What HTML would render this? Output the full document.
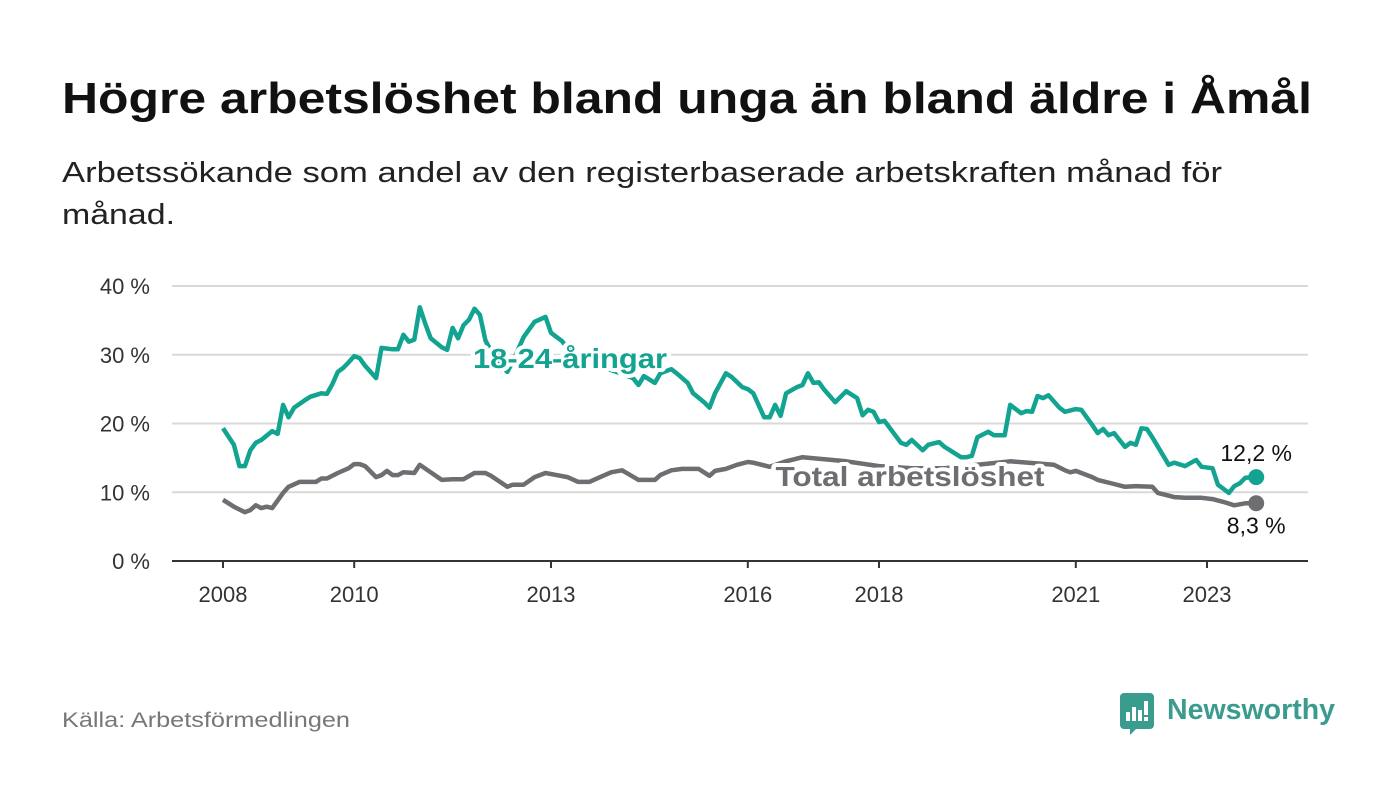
<!DOCTYPE html>
<html><head><meta charset="utf-8"><style>
html,body{margin:0;padding:0;background:#fff;}
svg{display:block;font-family:"Liberation Sans",sans-serif;}
</style></head><body>
<svg id="chart" width="1400" height="794" viewBox="0 0 1400 794">
<text x="62" y="113" font-size="44" font-weight="bold" fill="#111" textLength="1250" lengthAdjust="spacingAndGlyphs">Högre arbetslöshet bland unga än bland äldre i Åmål</text>
<text x="62" y="182" font-size="29" fill="#222" textLength="1160" lengthAdjust="spacingAndGlyphs">Arbetssökande som andel av den registerbaserade arbetskraften månad för</text>
<text x="62" y="224" font-size="29" fill="#222" textLength="113" lengthAdjust="spacingAndGlyphs">månad.</text>
<g id="grid"></g>
<g id="xaxis"></g>
<g id="series"></g>
<g id="labels"></g>
<text x="62" y="727" font-size="21" fill="#777" textLength="288" lengthAdjust="spacingAndGlyphs">Källa: Arbetsförmedlingen</text>
<g>
<path d="M1124 693h26a4 4 0 0 1 4 4v28a4 4 0 0 1-4 4h-14l-6 6v-6h-6a4 4 0 0 1-4-4v-28a4 4 0 0 1 4-4z" fill="#3a9b8f"/>
<rect x="1126" y="712" width="4" height="9" fill="#fff"/><rect x="1132" y="707" width="4" height="14" fill="#fff"/><rect x="1138" y="710" width="4" height="11" fill="#fff"/><rect x="1144" y="701" width="4" height="14" fill="#fff"/><rect x="1144" y="717" width="4" height="4" fill="#fff"/>
<text x="1167" y="719" font-size="29" font-weight="bold" fill="#3a9b8f" textLength="168" lengthAdjust="spacingAndGlyphs">Newsworthy</text>
</g>
</svg>
<script>
const yTicks=[0,10,20,30,40];
const yTickLabels=["0 %","10 %","20 %","30 %","40 %"];
const xTickYears=[2008,2010,2013,2016,2018,2021,2023];
const youthMonths=[0,2,3,4,5,6,7,9,10,11,12,13,15,16,18,19,20,21,22,23,24,25,26,28,29,31,32,33,34,35,36,37,38,40,41,42,43,44,45,46,47,48,50,52,53,55,57,59,60,62,64,66,68,70,72,75,76,77,79,80,82,83,85,86,88,89,90,92,93,95,96,97,99,100,101,102,103,105,106,107,108,109,110,112,114,116,117,118,119,120,121,124,125,126,128,129,131,132,135,136,137,138,140,141,143,144,146,147,148,149,150,151,153,154,156,157,159,160,161,162,163,165,166,167,168,169,170,173,174,176,178,179,181,182,184,185,186,187,189];
const youthValues=[19.3,16.9,13.8,13.8,16.1,17.2,17.6,18.9,18.5,22.7,20.9,22.3,23.4,23.9,24.4,24.3,25.7,27.5,28.1,28.9,29.8,29.5,28.4,26.6,31.0,30.8,30.8,32.9,31.9,32.2,36.9,34.5,32.4,31.1,30.7,33.9,32.4,34.3,35.1,36.7,35.8,32.1,29,27.5,29,32.6,34.8,35.5,33.2,32,30,29,28.5,28,27.5,26.6,25.6,26.9,25.9,27.3,27.9,27.3,25.9,24.4,23.1,22.3,24.4,27.3,26.8,25.3,25.0,24.4,20.9,20.9,22.7,21.1,24.4,25.3,25.6,27.3,25.9,26.0,24.9,23.1,24.7,23.7,21.2,22.0,21.7,20.2,20.4,17.2,16.9,17.6,16.1,16.9,17.3,16.6,15.1,15.1,15.3,18.0,18.8,18.3,18.3,22.7,21.5,21.8,21.7,24.0,23.7,24.1,22.3,21.7,22.1,22.0,19.8,18.6,19.2,18.3,18.6,16.6,17.2,16.9,19.3,19.2,18.0,14.0,14.3,13.8,14.7,13.7,13.5,11.1,9.9,10.9,11.3,12.1,12.2];
const totalMonths=[0,2,4,5,6,7,8,9,11,12,14,17,18,19,21,23,24,25,26,28,29,30,31,32,33,35,36,38,40,42,44,46,48,49,52,53,55,57,59,61,63,65,67,69,71,73,76,79,80,82,84,87,89,90,92,94,96,97,100,103,106,110,114,120,126,132,138,144,152,154,155,156,159,160,163,165,167,170,171,174,176,179,181,183,185,187,189];
const totalValues=[8.9,7.9,7.1,7.4,8.1,7.7,7.9,7.7,9.9,10.8,11.5,11.5,12.0,12.0,12.8,13.5,14.1,14.1,13.8,12.2,12.5,13.1,12.5,12.5,12.9,12.8,14.0,12.9,11.8,11.9,11.9,12.8,12.8,12.4,10.8,11.1,11.1,12.2,12.8,12.5,12.2,11.5,11.5,12.2,12.9,13.2,11.8,11.8,12.5,13.2,13.4,13.4,12.4,13.1,13.4,14.0,14.4,14.3,13.7,14.5,15.1,14.8,14.5,13.8,13.5,13.5,14.0,14.5,14.0,13.2,12.9,13.1,12.2,11.8,11.2,10.8,10.9,10.8,9.9,9.3,9.2,9.2,9.0,8.6,8.1,8.4,8.4];
const youthLast="12,2 %";
const totalLast="8,3 %";

const NS="http://www.w3.org/2000/svg";
const X0=223,PXY=65.6,Y0=561,PXV=6.875;
function xm(m){return X0+m/12*PXY;}
function xy(yr){return X0+(yr-2008)*PXY;}
function yv(v){return Y0-v*PXV;}
function mk(tag,attrs,parent){const e=document.createElementNS(NS,tag);for(const k in attrs)e.setAttribute(k,attrs[k]);parent.appendChild(e);return e;}
const grid=document.getElementById('grid');
yTicks.forEach((t,i)=>{
  const l=mk('line',{x1:172,x2:1308,y1:yv(t),y2:yv(t),stroke:t===0?'#333':'#d9d9d9','stroke-width':2},grid);
  
  
  const tx=mk('text',{x:150,y:yv(t)+8,'text-anchor':'end','font-size':22,fill:'#333'},grid);
  tx.textContent=yTickLabels[i];
  
  
});
const xa=document.getElementById('xaxis');
xTickYears.forEach(yr=>{
  const l=mk('line',{x1:xy(yr),x2:xy(yr),y1:Y0,y2:Y0+7,stroke:'#333','stroke-width':2},xa);
  
  
  const t=mk('text',{x:xy(yr),y:602,'text-anchor':'middle','font-size':22,fill:'#333'},xa);
  t.textContent=yr;
  
  
});
const ser=document.getElementById('series');
function line(ms,vs,col,name){
  const d=ms.map((m,i)=>(i?'L':'M')+xm(m).toFixed(1)+' '+yv(vs[i]).toFixed(1)).join('');
  const p=mk('path',{d:d,fill:'none',stroke:col,'stroke-width':4.5,'stroke-linejoin':'round'},ser);
  
  
  const n=ms.length-1;
  const c=mk('circle',{cx:xm(ms[n]),cy:yv(vs[n]),r:8,fill:col},ser);
  
  
}
line(totalMonths,totalValues,'#6d6d72','total');
line(youthMonths,youthValues,'#13a391','youth');
const lab=document.getElementById('labels');
function label(x,y,txt,col,size,bold,anchor,halo,name,len){
  const a={x:x,y:y,'font-size':size,'font-weight':bold?'bold':'normal',fill:col,'text-anchor':anchor,stroke:halo?'#fff':'none','stroke-width':halo?8:0,'paint-order':'stroke','stroke-linejoin':'round'};
  if(len){a.textLength=len;a.lengthAdjust='spacingAndGlyphs';}
  const t=mk('text',a,lab);
  t.textContent=txt;
  
  
}
label(570,368,'18-24-åringar','#13a391',28,true,'middle',true,'youth-series-label',194);
label(910,486,'Total arbetslöshet','#6d6d72',28,true,'middle',true,'total-series-label',269);
const ny=youthMonths.length-1,nt=totalMonths.length-1;
label(xm(youthMonths[ny]),yv(youthValues[ny])-16,youthLast,'#111',23,false,'middle',true,'youth-last-value');
label(xm(totalMonths[nt]),yv(totalValues[nt])+30,totalLast,'#111',23,false,'middle',true,'total-last-value');
</script>
</body></html>
